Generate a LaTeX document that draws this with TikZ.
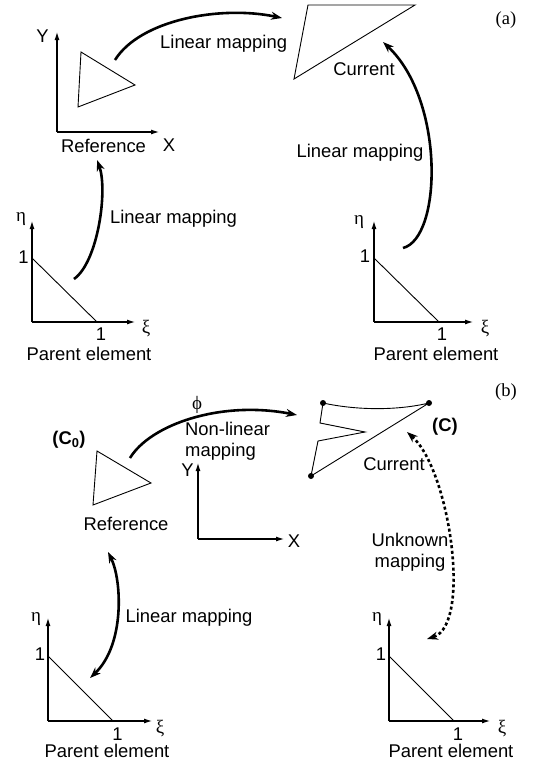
\documentclass[tikz,border=0pt]{standalone}
\usepackage{fontspec}
\setmainfont{Liberation Sans}
\newfontfamily\greekfont{Liberation Serif}
\usetikzlibrary{arrows.meta}

\newcommand{\labelsize}{\fontsize{18.4}{21}\selectfont}

\begin{document}
\begin{tikzpicture}[x=1pt, y=-1pt,
    lbl/.style={inner sep=0pt, font=\labelsize},
    grk/.style={inner sep=0pt, font=\greekfont\fontsize{19}{21}\selectfont},
    panel/.style={inner sep=0pt, font=\greekfont\fontsize{18.5}{21}\selectfont},
    axis/.style={line width=1.1pt, -{Latex[length=8pt, width=5pt]}},
    elem/.style={line width=0.9pt, line join=miter},
    mapping/.style={line width=2.6pt, -{Stealth[length=11pt, width=8pt]}},
    twoway/.style={line width=2.6pt, {Stealth[length=11pt, width=8pt]}-{Stealth[length=11pt, width=8pt]}},
    unknown/.style={line width=2.6pt, dash pattern=on 3pt off 2.6pt,
                    {Stealth[length=11pt, width=8pt]}-{Stealth[length=11pt, width=8pt]}},
    vertex/.style={circle, fill=black, inner sep=0pt, minimum size=6pt}
]
\useasboundingbox (0,0) rectangle (534,764);

%% ── (a) Reference configuration ────────────────────────────────
\coordinate (ra-o) at (57,132);
\coordinate (ra-y) at (57,32);
\coordinate (ra-x) at (159,132);
\draw[axis] (ra-o) -- (ra-y);
\draw[axis] (ra-o) -- (ra-x);
\node[lbl] (ra-ylab) at (42.5,36.5) {Y};
\node[lbl] (ra-xlab) at (169,145) {X};
\draw[elem] (81,52) -- (135,85) -- (78,107) -- cycle;
\node[lbl, anchor=base] (ra-lab) at (103.5,152) {Reference};

%% ── (a) Current configuration ──────────────────────────────────
\draw[elem] (308,5) -- (415,5) -- (294,79) -- cycle;
\node[lbl, anchor=base] (ca-lab) at (364,75) {Current};
\node[panel] (pa) at (506,20) {(a)};

%% ── (a) Parent elements ────────────────────────────────────────
\coordinate (pa1-o) at (32,322);
\coordinate (pa1-y) at (32,221);
\coordinate (pa1-x) at (135,322);
\draw[axis] (pa1-o) -- (pa1-y);
\draw[axis] (pa1-o) -- (pa1-x);
\draw[elem] (32,258) -- (97,322);
\node[grk] (pa1-eta) at (21,219.5) {η};
\node[lbl] (pa1-one) at (23.5,257.5) {1};
\node[lbl] (pa1-onex) at (101,334) {1};
\node[grk] (pa1-xi) at (146,328.5) {ξ};
\node[lbl, anchor=base] (pa1-lab) at (89,360) {Parent element};

\coordinate (pa2-o) at (374,322);
\coordinate (pa2-y) at (374,221);
\coordinate (pa2-x) at (473,322);
\draw[axis] (pa2-o) -- (pa2-y);
\draw[axis] (pa2-o) -- (pa2-x);
\draw[elem] (374,258) -- (439,322);
\node[grk] (pa2-eta) at (359,222) {η};
\node[lbl] (pa2-one) at (365,256.5) {1};
\node[lbl] (pa2-onex) at (442,334) {1};
\node[grk] (pa2-xi) at (485,328.5) {ξ};
\node[lbl, anchor=base] (pa2-lab) at (436,360) {Parent element};

%% ── (a) Mappings ───────────────────────────────────────────────
\coordinate (ma1-s) at (115,60);  \coordinate (ma1-e) at (282,18);
\coordinate (ma2-s) at (403,248); \coordinate (ma2-e) at (383,42);
\coordinate (ma3-s) at (74,279);  \coordinate (ma3-e) at (97,160);
\draw[mapping] (ma1-s) .. controls (140,20) and (220,5) .. (ma1-e);
\draw[mapping] (ma2-s) .. controls (442,238) and (445,100) .. (ma2-e);
\draw[mapping] (ma3-s) .. controls (98,262) and (108,190) .. (ma3-e);
\node[lbl, anchor=base west] (ma1-lab) at (160,48) {Linear mapping};
\node[lbl, anchor=base] (ma2-lab) at (360,157) {Linear mapping};
\node[lbl, anchor=base] (ma3-lab) at (173.5,223) {Linear mapping};

%% ── (b) Reference configuration (C0) ───────────────────────────
\draw[elem] (97,451) -- (151,483) -- (93,505) -- cycle;
\node[lbl, font=\labelsize\bfseries] (rb-c0) at (69,440) {(C\textsubscript{0})};
\node[lbl, anchor=base] (rb-lab) at (126,530) {Reference};
\coordinate (rb-o) at (198,539);
\coordinate (rb-y) at (198,463);
\coordinate (rb-x) at (284,539);
\draw[axis] (rb-o) -- (rb-y);
\draw[axis] (rb-o) -- (rb-x);
\node[lbl] (rb-ylab) at (187.5,470) {Y};
\node[lbl] (rb-xlab) at (294,541.5) {X};

%% ── (b) Current configuration (C) ──────────────────────────────
\node[vertex] (cb-a) at (323,403) {};
\node[vertex] (cb-b) at (429,403) {};
\node[vertex] (cb-c) at (311,476) {};
\draw[elem] (cb-a.center) .. controls (360,411) and (400,410) .. (cb-b.center)
    -- (cb-c.center) -- (318,441) -- (365,432) -- (320,423) -- cycle;
\node[lbl, font=\labelsize\bfseries] (cb-name) at (445,427) {(C)};
\node[lbl, anchor=base] (cb-lab) at (394,470) {Current};
\node[panel] (pb) at (506,392) {(b)};

%% ── (b) Parent elements ────────────────────────────────────────
\coordinate (pb1-o) at (48,721);
\coordinate (pb1-y) at (48,618);
\coordinate (pb1-x) at (152,721);
\draw[axis] (pb1-o) -- (pb1-y);
\draw[axis] (pb1-o) -- (pb1-x);
\draw[elem] (48,656) -- (113,721);
\node[grk] (pb1-eta) at (36,619.5) {η};
\node[lbl] (pb1-one) at (40,654) {1};
\node[lbl] (pb1-onex) at (117.5,734) {1};
\node[grk] (pb1-xi) at (160,728.5) {ξ};
\node[lbl, anchor=base] (pb1-lab) at (107,757) {Parent element};

\coordinate (pb2-o) at (389,721);
\coordinate (pb2-y) at (389,618);
\coordinate (pb2-x) at (490,721);
\draw[axis] (pb2-o) -- (pb2-y);
\draw[axis] (pb2-o) -- (pb2-x);
\draw[elem] (389,656) -- (454,721);
\node[grk] (pb2-eta) at (377,619.5) {η};
\node[lbl] (pb2-one) at (381,654) {1};
\node[lbl] (pb2-onex) at (458,734) {1};
\node[grk] (pb2-xi) at (502,728.5) {ξ};
\node[lbl, anchor=base] (pb2-lab) at (451,757) {Parent element};

%% ── (b) Mappings ───────────────────────────────────────────────
\coordinate (mb1-s) at (130,458); \coordinate (mb1-e) at (297,415);
\coordinate (mb2-s) at (407,432); \coordinate (mb2-e) at (427,639);
\coordinate (mb3-s) at (108,552); \coordinate (mb3-e) at (90,678);
\draw[mapping] (mb1-s) .. controls (150,425) and (220,400) .. (mb1-e);
\draw[unknown] (mb2-s) .. controls (450,470) and (472,625) .. (mb2-e);
\draw[twoway]  (mb3-s) .. controls (122,580) and (125,645) .. (mb3-e);
\node[grk] (mb1-phi) at (197,405) {ϕ};
\node[lbl, anchor=north west, align=left] (mb1-lab) at (185,422) {Non-linear\\mapping};
\node[lbl, anchor=north, align=center] (mb2-lab) at (410,533) {Unknown\\mapping};
\node[lbl, anchor=base] (mb3-lab) at (189,622) {Linear mapping};

\end{tikzpicture}
\end{document}
